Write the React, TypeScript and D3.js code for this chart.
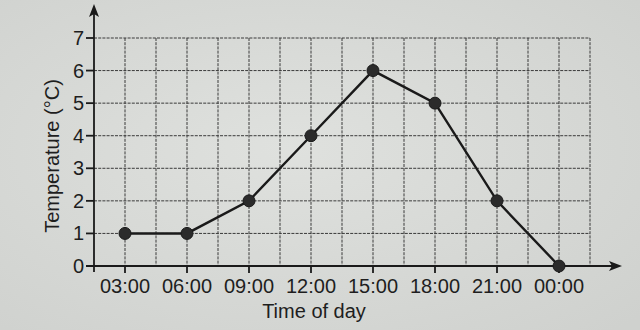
import React from "react";
import * as d3 from "d3";

const categories = ["03:00", "06:00", "09:00", "12:00", "15:00", "18:00", "21:00", "00:00"];
const temperatures = [1, 1, 2, 4, 6, 5, 2, 0];
const yTicks = [0, 1, 2, 3, 4, 5, 6, 7];
const gridSteps = d3.range(0, 7.51, 0.5);

const W = 640;
const H = 330;
const FONT = "'Liberation Sans', Arial, Helvetica, sans-serif";

export default function App() {
  const x = d3.scaleLinear().domain([-0.5, 7.5]).range([94, 590]);
  const y = d3.scaleLinear().domain([0, 7]).range([266, 38]);
  const line = d3
    .line<number>()
    .x((_, i) => x(i))
    .y((d) => y(d));

  const x0 = x(-0.5);
  const y0 = y(0);

  return (
    <div style={{ position: "absolute", left: 0, top: 0, width: W, height: H }}>
      <svg width={W} height={H} style={{ display: "block" }}>
        <defs>
          <radialGradient id="bg" cx="45%" cy="45%" r="75%">
            <stop offset="0%" stopColor="#dfe1de" />
            <stop offset="100%" stopColor="#cfd1ce" />
          </radialGradient>
        </defs>
        <rect x={0} y={0} width={W} height={H} fill="url(#bg)" />

        {/* grid */}
        <g stroke="#3a3a3a" strokeWidth={1} strokeDasharray="3,1.2">
          {yTicks.slice(1).map((t) => (
            <line key={"h" + t} x1={x0} x2={x(7.5)} y1={y(t)} y2={y(t)} />
          ))}
          {gridSteps.map((s) => (
            <line key={"v" + s} x1={x(s)} x2={x(s)} y1={y(7)} y2={y0} />
          ))}
        </g>

        {/* axes */}
        <g stroke="#1a1a1a" strokeWidth={1.8} fill="none">
          <line x1={x0} x2={x0} y1={y0 + 6} y2={10} />
          <line x1={x0 - 8} x2={614} y1={y0} y2={y0} />
          {yTicks.map((t) => (
            <line key={"yt" + t} x1={x0 - 8} x2={x0} y1={y(t)} y2={y(t)} />
          ))}
          {categories.map((c, i) => (
            <line key={"xt" + c} x1={x(i)} x2={x(i)} y1={y0} y2={y0 + 7} />
          ))}
        </g>
        <path d={`M${x0},4 L${x0 - 5},17 L${x0},14 L${x0 + 5},17 Z`} fill="#1a1a1a" />
        <path d={`M622,${y0} L609,${y0 - 5} L612,${y0} L609,${y0 + 5} Z`} fill="#1a1a1a" />

        {/* tick labels */}
        <g fontFamily={FONT} fontSize={20} fill="#1e1e1e">
          {yTicks.map((t) => (
            <text key={"yl" + t} x={x0 - 10} y={y(t)} dy="0.35em" textAnchor="end">
              {t}
            </text>
          ))}
          {categories.map((c, i) => (
            <text key={"xl" + c} x={x(i)} y={y0 + 27} textAnchor="middle">
              {c}
            </text>
          ))}
          <text x={314} y={318} textAnchor="middle">
            Time of day
          </text>
          <text transform={`translate(59,${y(3.5) + 4}) rotate(-90)`} textAnchor="middle">
            Temperature (°C)
          </text>
        </g>

        {/* data */}
        <path d={line(temperatures) || ""} fill="none" stroke="#1a1a1a" strokeWidth={2.4} />
        {temperatures.map((t, i) => (
          <circle key={"p" + i} cx={x(i)} cy={y(t)} r={6} fill="#2b2b2b" stroke="#1a1a1a" strokeWidth={1} />
        ))}
      </svg>
    </div>
  );
}
